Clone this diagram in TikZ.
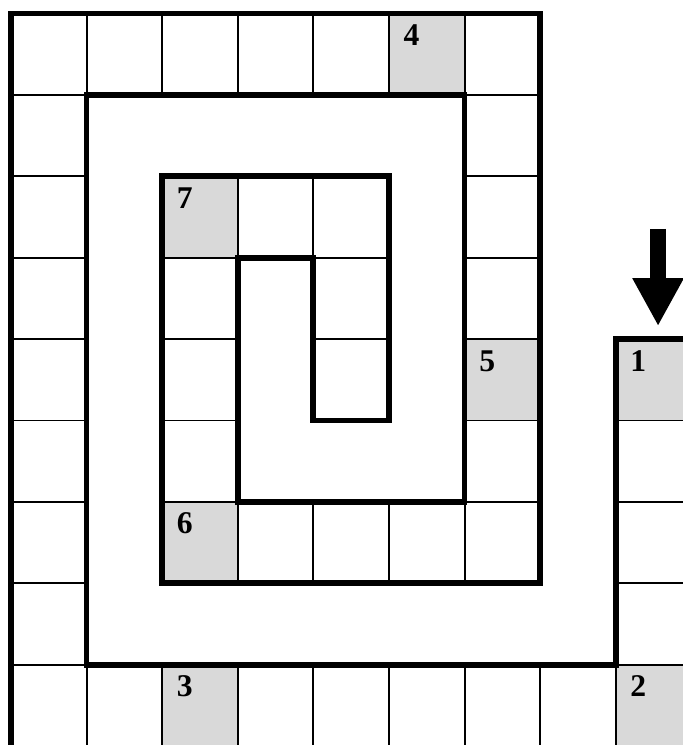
\documentclass[tikz,border=0pt]{standalone}
\usepackage{fontspec}
\setmainfont{Liberation Serif}
\usetikzlibrary{arrows.meta}
\definecolor{ink}{RGB}{0,0,0}
\definecolor{marked}{RGB}{217,217,217}
\tikzset{
    cell/.style={
        rectangle,
        draw=ink,
        line width=0.55pt,
        minimum width=0.756cm,
        minimum height=0.814cm,
        inner sep=0pt,
        outer sep=0pt
    },
    wall/.style={
        draw=ink,
        line width=1.65pt,
        line join=miter
    },
    cellnum/.style={
        font=\fontsize{9}{11}\selectfont\bfseries,
        text=ink,
        inner sep=0pt,
        anchor=base west
    },
    bigarrow/.style={
        draw=ink,
        line width=0.16cm,
        -{Triangle[length=0.48cm, width=0.48cm]}
    }
}

\begin{document}
\begin{tikzpicture}[x=0.756cm, y=0.814cm]
\useasboundingbox (-0.1455,0.166) rectangle (8.889,-8.987);
\clip (-0.1455,0.166) rectangle (8.889,-8.987);

% Shaded squares
\foreach \c/\r in {8/4, 8/8, 2/8, 5/0, 6/4, 2/6, 2/2}
    \fill[marked] (\c,-\r) rectangle ++(1,-1);

% Track squares
\foreach \c in {0,...,6} \node[cell] (c-\c-0) at (\c+0.5,-0.5) {};
\foreach \r in {1,...,8} \node[cell] (c-0-\r) at (0.5,-\r-0.5) {};
\foreach \c in {1,...,8} \node[cell] (c-\c-8) at (\c+0.5,-8.5) {};
\foreach \r in {4,...,7} \node[cell] (c-8-\r) at (8.5,-\r-0.5) {};
\foreach \r in {1,...,6} \node[cell] (c-6-\r) at (6.5,-\r-0.5) {};
\foreach \c in {2,...,5} \node[cell] (c-\c-6) at (\c+0.5,-6.5) {};
\foreach \r in {2,...,5} \node[cell] (c-2-\r) at (2.5,-\r-0.5) {};
\foreach \c in {3,4} \node[cell] (c-\c-2) at (\c+0.5,-2.5) {};
\foreach \r in {3,4} \node[cell] (c-4-\r) at (4.5,-\r-0.5) {};

% Numbers
\foreach \c/\r/\n in {8/4/1, 8/8/2, 2/8/3, 5/0/4, 6/4/5, 2/6/6, 2/2/7}
    \node[cellnum] (num-\n) at ([xshift=0.14cm, yshift=-0.32cm]c-\c-\r.north west) {\n};

% Spiral wall
\draw[wall] (9,-4) -- (8,-4) -- (8,-8) -- (1,-8) -- (1,-1) -- (6,-1) -- (6,-6)
    -- (3,-6) -- (3,-3) -- (4,-3) -- (4,-5) -- (5,-5) -- (5,-2) -- (2,-2)
    -- (2,-7) -- (7,-7) -- (7,0) -- (0,0) -- (0,-9.5);

% Start arrow
\coordinate (arrowtop) at (8.56,-2.647);
\draw[bigarrow, shorten >=0.13cm] (arrowtop) -- (arrowtop |- c-8-4.north);
\end{tikzpicture}
\end{document}
